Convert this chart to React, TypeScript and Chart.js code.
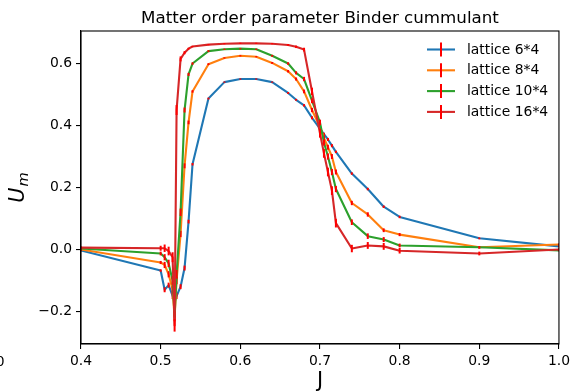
import React, { useEffect, useRef } from "react";
import { Chart, registerables } from "chart.js";

Chart.register(...registerables);

const TITLE = "Matter order parameter Binder cummulant";
const X_LABEL = "J";
const Y_LABEL_MAIN = "U";
const Y_LABEL_SUB = "m";

const J = [0.4, 0.5, 0.505, 0.51, 0.515, 0.5175, 0.52, 0.525, 0.53, 0.535, 0.54, 0.56, 0.58, 0.6, 0.62, 0.64, 0.66, 0.67, 0.68, 0.69, 0.7, 0.705, 0.71, 0.715, 0.72, 0.74, 0.76, 0.78, 0.8, 0.9, 1.0];

const U_6x4 = [-0.003, -0.068, -0.13, -0.115, -0.15, -0.17, -0.15, -0.12, -0.06, 0.09, 0.275, 0.487, 0.54, 0.55, 0.55, 0.54, 0.505, 0.483, 0.465, 0.425, 0.39, 0.372, 0.355, 0.335, 0.315, 0.245, 0.195, 0.138, 0.105, 0.036, 0.01];
const U_8x4 = [0.0, -0.042, -0.05, -0.08, -0.13, -0.22, -0.1, 0.05, 0.27, 0.41, 0.51, 0.598, 0.618, 0.625, 0.622, 0.602, 0.575, 0.55, 0.51, 0.45, 0.395, 0.36, 0.33, 0.3, 0.25, 0.15, 0.113, 0.062, 0.048, 0.007, 0.016];
const U_10x4 = [0.003, -0.013, -0.025, -0.045, -0.1, -0.215, -0.08, 0.12, 0.45, 0.565, 0.6, 0.64, 0.646, 0.648, 0.646, 0.625, 0.6, 0.57, 0.55, 0.48, 0.41, 0.345, 0.3, 0.25, 0.195, 0.088, 0.043, 0.032, 0.013, 0.007, -0.003];
const U_16x4 = [0.006, 0.004, 0.004, -0.005, -0.025, -0.245, 0.45, 0.615, 0.635, 0.648, 0.655, 0.661, 0.664, 0.665, 0.665, 0.664, 0.66, 0.654, 0.645, 0.51, 0.375, 0.31, 0.25, 0.19, 0.085, 0.003, 0.013, 0.01, -0.004, -0.013, 0.0];

const ERR_6x4 = [0.003, 0.004, 0.008, 0.008, 0.01, 0.01, 0.01, 0.008, 0.008, 0.006, 0.004, 0.003, 0.002, 0.002, 0.002, 0.002, 0.003, 0.003, 0.004, 0.005, 0.005, 0.005, 0.005, 0.005, 0.004, 0.004, 0.004, 0.004, 0.004, 0.003, 0.003];
const ERR_8x4 = [0.003, 0.005, 0.01, 0.01, 0.012, 0.012, 0.012, 0.01, 0.008, 0.006, 0.004, 0.003, 0.002, 0.002, 0.002, 0.003, 0.004, 0.005, 0.006, 0.007, 0.008, 0.008, 0.008, 0.008, 0.008, 0.007, 0.007, 0.006, 0.005, 0.004, 0.003];
const ERR_10x4 = [0.003, 0.006, 0.01, 0.012, 0.014, 0.015, 0.014, 0.012, 0.008, 0.005, 0.004, 0.003, 0.002, 0.002, 0.002, 0.003, 0.004, 0.005, 0.007, 0.008, 0.009, 0.01, 0.01, 0.01, 0.01, 0.009, 0.009, 0.008, 0.006, 0.004, 0.003];
const ERR_16x4 = [0.004, 0.008, 0.012, 0.014, 0.016, 0.02, 0.016, 0.008, 0.005, 0.003, 0.002, 0.002, 0.002, 0.002, 0.002, 0.002, 0.003, 0.004, 0.006, 0.012, 0.014, 0.014, 0.014, 0.014, 0.014, 0.012, 0.011, 0.011, 0.009, 0.006, 0.004];

const SERIES_LABELS = ["lattice 6*4", "lattice 8*4", "lattice 10*4", "lattice 16*4"];
const SERIES_COLORS = ["#1f77b4", "#ff7f0e", "#2ca02c", "#d62728"];
const ERR_COLOR = "#ff0000";

const X_TICKS = [0.4, 0.5, 0.6, 0.7, 0.8, 0.9, 1.0];
const Y_TICKS = [-0.2, 0.0, 0.2, 0.4, 0.6];

const FONT = "'DejaVu Sans', 'Liberation Sans', sans-serif";

function fmt(v: number): string {
  if (Math.abs(v) < 1e-9) return "0.0";
  return v < 0 ? "\u2212" + Math.abs(v).toFixed(1) : v.toFixed(1);
}

export default function App() {
  const ref = useRef<HTMLCanvasElement>(null);

  useEffect(() => {
    const canvas = ref.current!;
    const values = [U_6x4, U_8x4, U_10x4, U_16x4];
    const errs = [ERR_6x4, ERR_8x4, ERR_10x4, ERR_16x4];

    const decor = {
      id: "decor",
      afterDatasetDraw(chart: any, args: any) {
        const i = args.index;
        const e = errs[i];
        const v = values[i];
        const xs = chart.scales.x;
        const ys = chart.scales.y;
        const ctx = chart.ctx;
        const a = chart.chartArea;
        ctx.save();
        ctx.beginPath();
        ctx.rect(a.left, a.top, a.right - a.left, a.bottom - a.top);
        ctx.clip();
        ctx.strokeStyle = ERR_COLOR;
        ctx.lineWidth = 2;
        ctx.lineCap = "butt";
        for (let k = 0; k < J.length; k++) {
          const px = xs.getPixelForValue(J[k]);
          const y1 = ys.getPixelForValue(v[k] - e[k]);
          const y2 = ys.getPixelForValue(v[k] + e[k]);
          ctx.beginPath();
          ctx.moveTo(px, y1);
          ctx.lineTo(px, y2);
          ctx.stroke();
        }
        ctx.restore();
      },
      afterDraw(chart: any) {
        const ctx = chart.ctx;
        const a = chart.chartArea;
        ctx.save();
        // frame
        ctx.strokeStyle = "#000";
        ctx.lineWidth = 1.1;
        ctx.strokeRect(a.left, a.top, a.right - a.left, a.bottom - a.top);

        // title
        const cx = (a.left + a.right) / 2;
        ctx.fillStyle = "#000";
        ctx.font = `16.7px ${FONT}`;
        ctx.textAlign = "center";
        ctx.textBaseline = "alphabetic";
        ctx.fillText(TITLE, cx, a.top - 8.5);

        // x label
        ctx.font = `20.8px ${FONT}`;
        ctx.fillText(X_LABEL, cx, 387);

        // stray clipped tick text at left edge
        ctx.font = `13.9px ${FONT}`;
        ctx.textAlign = "right";
        ctx.textBaseline = "middle";
        ctx.fillText("0", 4.5, 362);

        // y label (mathtext U_m)
        ctx.save();
        const cy = (a.top + a.bottom) / 2;
        ctx.translate(24, cy);
        ctx.rotate(-Math.PI / 2);
        ctx.textBaseline = "alphabetic";
        ctx.textAlign = "left";
        ctx.font = `italic 20.8px ${FONT}`;
        const wU = ctx.measureText(Y_LABEL_MAIN).width;
        ctx.font = `italic 14.6px ${FONT}`;
        const wm = ctx.measureText(Y_LABEL_SUB).width;
        const total = wU + wm + 1;
        ctx.font = `italic 20.8px ${FONT}`;
        ctx.fillText(Y_LABEL_MAIN, -total / 2, 0);
        ctx.font = `italic 14.6px ${FONT}`;
        ctx.fillText(Y_LABEL_SUB, -total / 2 + wU + 1, 3.5);
        ctx.restore();

        // legend
        ctx.font = `13.9px ${FONT}`;
        ctx.textAlign = "left";
        ctx.textBaseline = "middle";
        for (let i = 0; i < SERIES_LABELS.length; i++) {
          const y = 49.5 + i * 20.8;
          ctx.strokeStyle = SERIES_COLORS[i];
          ctx.lineWidth = 2.1;
          ctx.beginPath();
          ctx.moveTo(427, y);
          ctx.lineTo(455, y);
          ctx.stroke();
          ctx.strokeStyle = ERR_COLOR;
          ctx.lineWidth = 2;
          ctx.beginPath();
          ctx.moveTo(441, y - 7);
          ctx.lineTo(441, y + 7);
          ctx.stroke();
          ctx.fillStyle = "#000";
          ctx.fillText(SERIES_LABELS[i], 467, y + 0.5);
        }
        ctx.restore();
      },
    };

    const chart = new Chart(canvas, {
      type: "scatter",
      data: {
        datasets: values.map((v, i) => ({
          label: SERIES_LABELS[i],
          data: J.map((x, k) => ({ x, y: v[k] })),
          showLine: true,
          borderColor: SERIES_COLORS[i],
          backgroundColor: SERIES_COLORS[i],
          borderWidth: 2.1,
          borderJoinStyle: "round",
          pointRadius: 0,
          pointHoverRadius: 0,
          tension: 0,
          order: 4 - i,
        })),
      },
      options: {
        responsive: false,
        animation: false,
        devicePixelRatio: 1,
        layout: { padding: { top: 31, right: 13, left: 0, bottom: 0 } },
        plugins: {
          legend: { display: false },
          tooltip: { enabled: false },
          title: { display: false },
        },
        scales: {
          x: {
            type: "linear",
            min: 0.4,
            max: 1.0,
            afterBuildTicks: (s: any) => {
              s.ticks = X_TICKS.map((value) => ({ value }));
            },
            afterFit: (s: any) => {
              s.height = 48;
            },
            ticks: {
              callback: (v: any) => fmt(Number(v)),
              font: { family: FONT, size: 13.9 },
              color: "#000",
              padding: 4,
              maxRotation: 0,
              autoSkip: false,
            },
            grid: { drawOnChartArea: false, tickLength: 5, color: "#000", lineWidth: 1.1 },
            border: { color: "#000", width: 1.1 },
          },
          y: {
            type: "linear",
            min: -0.305,
            max: 0.705,
            afterBuildTicks: (s: any) => {
              s.ticks = Y_TICKS.map((value) => ({ value }));
            },
            afterFit: (s: any) => {
              s.width = 81;
            },
            ticks: {
              callback: (v: any) => fmt(Number(v)),
              font: { family: FONT, size: 13.9 },
              color: "#000",
              padding: 4,
              autoSkip: false,
            },
            grid: { drawOnChartArea: false, tickLength: 5, color: "#000", lineWidth: 1.1 },
            border: { color: "#000", width: 1.1 },
          },
        },
      } as any,
      plugins: [decor],
    });
    return () => chart.destroy();
  }, []);

  return (
    <div style={{ position: "fixed", left: 0, top: 0, width: 574, height: 392, background: "#fff" }}>
      <canvas ref={ref} width={574} height={392} style={{ width: 574, height: 392, display: "block" }} />
    </div>
  );
}
